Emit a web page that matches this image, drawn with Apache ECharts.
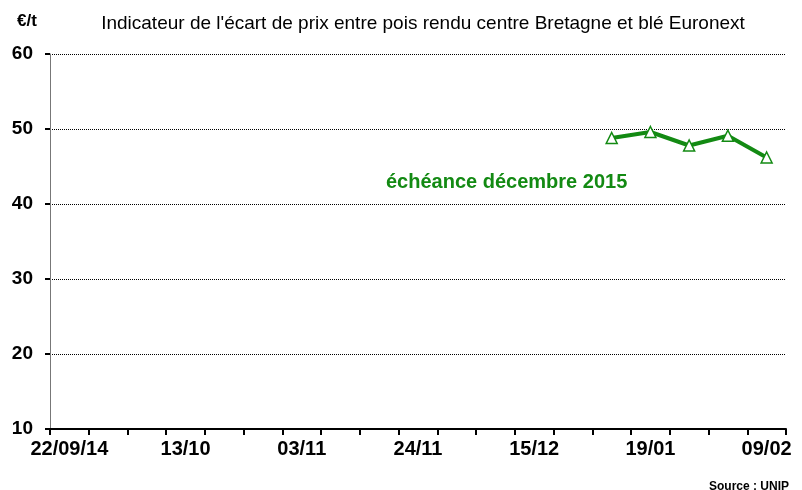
<!DOCTYPE html>
<html>
<head>
<meta charset="utf-8">
<script src="https://cdn.jsdelivr.net/npm/echarts@6/dist/echarts.min.js"></script>
<style>
html, body { margin: 0; padding: 0; background: #fff; }
#chart { width: 802px; height: 490px; }
</style>
</head>
<body>
<div id="chart"></div>
<script>
// semaines (les fêtes de fin d'année ne sont pas cotées)
var weeks = ['22/09/14', '29/09', '06/10', '13/10', '20/10', '27/10', '03/11', '10/11', '17/11',
  '24/11', '01/12', '08/12', '15/12', '05/01', '12/01', '19/01', '26/01', '02/02', '09/02'];
var shownLabels = ['22/09/14', '13/10', '03/11', '24/11', '15/12', '19/01', '09/02'];
// écart pois - blé, échéance décembre 2015 (€/t)
var ecartDec15 = [null, null, null, null, null, null, null, null, null,
  null, null, null, null, null, 48.8, 49.6, 47.8, 49.1, 46.2];

var vert = '#138a13';
var chart = echarts.init(document.getElementById('chart'));
chart.setOption({
  animation: false,
  textStyle: { fontFamily: 'Liberation Sans, Arial, sans-serif' },
  grid: { left: 50, right: 16, top: 54, bottom: 61 },
  title: [{
    text: "Indicateur de l'écart de prix entre pois rendu centre Bretagne et blé Euronext",
    left: 418, top: 9, textAlign: 'center',
    textStyle: { fontSize: 19, fontWeight: 'normal', color: '#000' }
  }, {
    text: '€/t', left: 12, top: 8,
    textStyle: { fontSize: 17, fontWeight: 'bold', color: '#000' }
  }, {
    text: 'Source : UNIP', right: 8, top: 476,
    textStyle: { fontSize: 12, fontWeight: 'bold', color: '#000' }
  }],
  graphic: [{
    type: 'text', left: 386, top: 172,
    style: { text: 'échéance décembre 2015', fill: vert,
      font: 'bold 20px Liberation Sans, Arial, sans-serif' }
  }],
  xAxis: {
    type: 'category',
    data: weeks,
    boundaryGap: true,
    axisLine: { lineStyle: { color: '#000', width: 2 } },
    axisTick: { show: true, length: 6, lineStyle: { color: '#000', width: 2 }, interval: 0 },
    axisLabel: {
      interval: 0, margin: 10, fontSize: 20, fontWeight: 'bold', color: '#000',
      formatter: function (v) { return shownLabels.indexOf(v) >= 0 ? v : ''; }
    }
  },
  yAxis: {
    type: 'value', min: 10, max: 60, interval: 10,
    axisLine: { show: true, lineStyle: { color: '#777', width: 1 } },
    axisTick: { show: true, length: 5, lineStyle: { color: '#000', width: 2 } },
    axisLabel: { fontSize: 19, fontWeight: 'bold', color: '#000', margin: 17 },
    splitLine: { show: true, lineStyle: { color: '#000', type: [1, 1], width: 1 } }
  },
  series: [{
    type: 'line',
    data: ecartDec15,
    connectNulls: false,
    symbol: 'triangle', symbolSize: 11,
    itemStyle: { color: '#fff', borderColor: vert, borderWidth: 1.5 },
    lineStyle: { color: vert, width: 4 }
  }]
});
</script>
</body>
</html>
